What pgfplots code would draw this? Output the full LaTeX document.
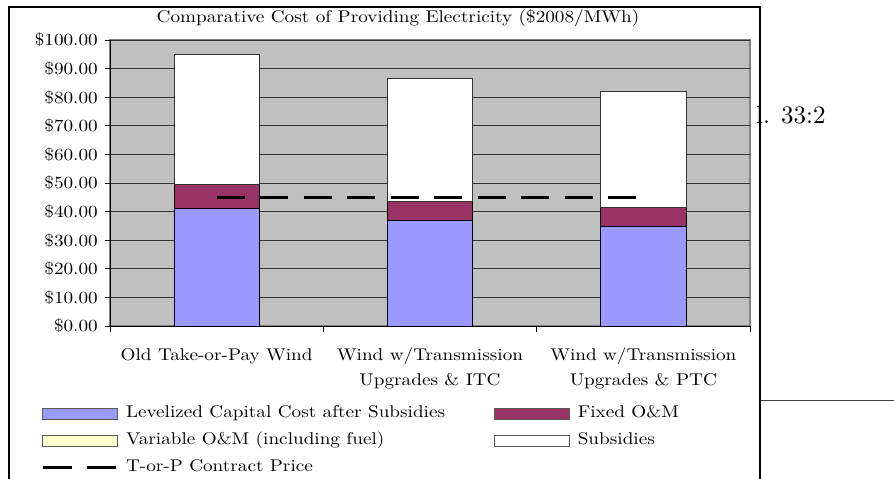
\documentclass[border=0pt]{standalone}
\usepackage{fontspec}
\setmainfont{lmroman10-regular.otf}[FakeStretch=1.13]
\newfontfamily\plainlm{lmroman10-regular.otf}
\usepackage{pgfplots}
\pgfplotsset{compat=1.18}

\definecolor{capc}{HTML}{9999FF}  % levelized capital
\definecolor{fomc}{HTML}{993366}  % fixed O&M
\definecolor{vomc}{HTML}{FFFFCC}  % variable O&M
\definecolor{plotbg}{HTML}{C0C0C0}
\definecolor{edgegray}{HTML}{808080}

\newcommand{\chartfont}{\fontsize{17}{25}\selectfont}

\pgfplotsset{
  swatch/.style={legend image code/.code={%
    \draw[##1, draw=black!65, line width=0.8pt] (0pt,-5.5pt) rectangle (75pt,5.5pt);}},
}

\begin{document}
\begin{tikzpicture}
\useasboundingbox (0pt,0pt) rectangle (894pt,-479pt);
% stray text from the page, partly under the chart frame
\node[anchor=base west, inner sep=0pt, font=\plainlm\fontsize{25}{25}\selectfont] at (756pt,-123pt) {l. 33:2};
\draw[black!75, line width=1pt] (760pt,-400.7pt) -- (894pt,-400.7pt);

\begin{axis}[
  at={(110pt,-326pt)}, anchor=south west,
  scale only axis, width=640pt, height=286pt,
  ybar stacked, bar width=0.4,
  reverse stacked plots=false,
  xmin=-0.5, xmax=2.5, ymin=0, ymax=100,
  axis background/.style={fill=plotbg, draw=edgegray, line width=1.2pt},
  axis x line*=bottom, axis y line*=left,
  axis line style={black, line width=0.9pt, -},
  tick align=outside, major tick length=5pt,
  ytick={0,10,...,100},
  yticklabels={\$0.00,\$10.00,\$20.00,\$30.00,\$40.00,\$50.00,\$60.00,\$70.00,\$80.00,\$90.00,\$100.00},
  ytick style={black, line width=0.9pt},
  ymajorgrids, grid style={draw=black!80, line width=0.8pt},
  xtick={0,1,2},
  xticklabels={Old Take-or-Pay Wind,{Wind w/Transmission\\Upgrades \& ITC},{Wind w/Transmission\\Upgrades \& PTC}},
  xtick style={draw=none},
  extra x ticks={-0.5,0.5,1.5,2.5},
  extra x tick labels={},
  extra x tick style={xtick style={draw=black, line width=0.9pt}, major tick length=6pt},
  tick label style={font=\chartfont},
  yticklabel style={anchor=east, inner sep=0pt, xshift=-7pt},
  xticklabel style={align=center, anchor=north, inner sep=0pt, yshift=-17pt},
  title={Comparative Cost of Providing Electricity (\$2008/MWh)},
  title style={at={(0.45,1.056)}, anchor=center, inner sep=0pt, font=\chartfont},
  legend columns=2,
  legend cell align=left,
  legend style={at={(-0.1078,-0.278)}, anchor=north west, draw=none, fill=none,
    inner sep=0pt, outer sep=0pt, row sep=11pt,
    nodes={inner sep=0pt, font=\chartfont, text height=12pt, text depth=4pt},
    /tikz/every odd column/.append style={column sep=8pt}},
]
\addplot[fill=capc, draw=black, line width=0.8pt, swatch] coordinates {(0,41.0) (1,36.8) (2,34.7)};
\addplot[fill=fomc, draw=black, line width=0.8pt, swatch] coordinates {(0,8.4) (1,6.9) (2,6.9)};
\addplot[fill=vomc, draw=black, line width=0.8pt, swatch] coordinates {(0,0) (1,0) (2,0)};
\addplot[fill=white, draw=black!80, line width=0.8pt, swatch] coordinates {(0,45.6) (1,42.8) (2,40.5)};
\addplot[stack plots=false, sharp plot, black, line width=3pt, dash pattern=on 28pt off 15.5pt, mark=none,
  legend image code/.code={\draw[black, line width=3pt, dash pattern=on 29pt off 15pt] (0pt,0pt) -- (74pt,0pt);}]
  coordinates {(0,45) (2,45)};
\legend{\makebox[368pt][l]{Levelized Capital Cost after Subsidies},Fixed O\&M,
  \makebox[368pt][l]{Variable O\&M (including fuel)},Subsidies,
  \makebox[368pt][l]{T-or-P Contract Price}}
\end{axis}

\draw[black, line width=1.2pt] (9pt,-7pt) rectangle (760pt,-520pt);
\end{tikzpicture}
\end{document}
